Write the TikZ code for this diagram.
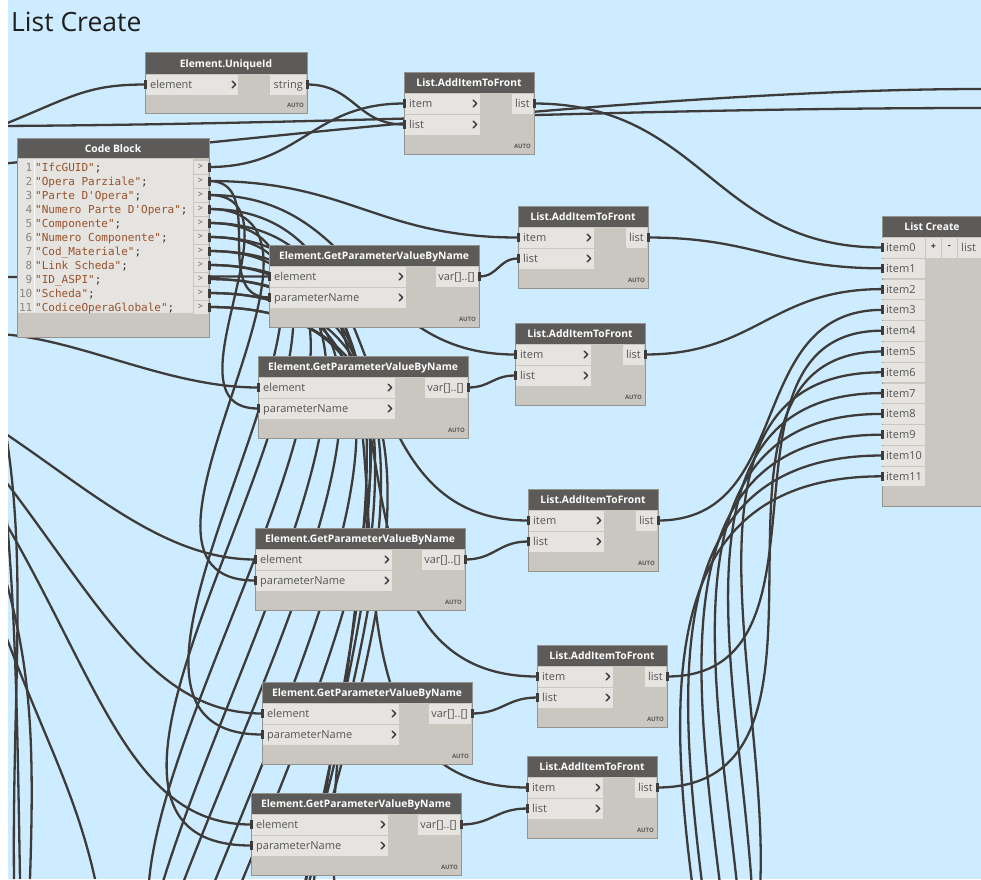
\documentclass[tikz,border=0pt]{standalone}
\usepackage{fontspec}
\setmainfont{Open Sans}
\setmonofont{DejaVu Sans Mono}
\usetikzlibrary{calc}
\pgfdeclarelayer{bg}
\pgfdeclarelayer{wires}
\pgfsetlayers{bg,wires,main}

\definecolor{canvas}{RGB}{206,236,255}
\definecolor{headgray}{RGB}{93,91,89}
\definecolor{bodygray}{RGB}{202,198,192}
\definecolor{rowgray}{RGB}{230,228,225}
\definecolor{edgegray}{RGB}{150,147,143}
\definecolor{wirecol}{RGB}{62,60,58}
\definecolor{labelgray}{RGB}{85,85,85}
\definecolor{chevcol}{RGB}{60,60,60}
\definecolor{strbrown}{RGB}{150,82,42}
\definecolor{numgray}{RGB}{135,135,135}
\definecolor{codedark}{RGB}{50,50,50}

\tikzset{
  wire/.style={draw=wirecol, line width=2.3pt,
    to path={let \p1=(\tikztostart), \p2=(\tikztotarget),
      \n1={0.45*veclen(\x2-\x1,\y2-\y1)} in
      .. controls +(\n1,0) and +(-\n1,0) .. (\tikztotarget)}},
  freewire/.style={draw=wirecol, line width=2.3pt},
  headtext/.style={text=white, font=\fontsize{10.3}{12}\selectfont\bfseries, inner sep=0pt},
  porttext/.style={text=labelgray, font=\fontsize{11}{13}\selectfont, inner sep=0pt},
  autotext/.style={text=headgray, font=\fontsize{6}{7}\selectfont\bfseries, inner sep=0pt},
  codetext/.style={font=\fontsize{11}{14}\selectfont\ttfamily, inner sep=0pt},
  titletext/.style={text=black!88, font=\fontsize{26.5}{30}\selectfont, inner sep=0pt},
}

% input chevron and port marker
\newcommand{\dynchev}[2]{\draw[chevcol, line width=1.4pt, line cap=round, line join=round]
  ({#1-1.8},{#2-3.3}) -- ({#1+1.6},{#2}) -- ({#1-1.8},{#2+3.3});}
\newcommand{\dynmark}[2]{\fill[wirecol] ({#1-1.5},{#2-4.5}) rectangle ({#1+1.5},{#2+4.5});}

% List.AddItemToFront: name, left, top
\newcommand{\aifnode}[3]{%
\begin{scope}[shift={(#2,#3)}]
  \fill[bodygray] (0,0) rectangle (130,82);
  \fill[headgray] (0,0) rectangle (130,21);
  \fill[rowgray] (0,22) rectangle (76,41.5);
  \fill[rowgray] (0,43) rectangle (76,62.5);
  \fill[rowgray] (108,22) rectangle (129,41.5);
  \draw[edgegray, line width=0.8pt] (0,0) rectangle (130,82);
  \node[headtext, anchor=base] (#1-head) at (65,14.5) {List.AddItemToFront};
  \node[porttext, anchor=base west] (#1-l1) at (5,35.5) {item};
  \node[porttext, anchor=base west] (#1-l2) at (5,56.5) {list};
  \node[porttext, anchor=base east] (#1-l3) at (126,35.5) {list};
  \node[autotext, anchor=base east] (#1-auto) at (127,76) {AUTO};
  \dynchev{71}{31.5}\dynchev{71}{52.5}
  \coordinate (#1-item) at (0,31.5);
  \coordinate (#1-list) at (0,52.5);
  \coordinate (#1-out) at (130,31.5);
  \dynmark{0}{31.5}\dynmark{0}{52.5}\dynmark{130}{31.5}
\end{scope}}

% Element.GetParameterValueByName: name, left, top
\newcommand{\gpnode}[3]{%
\begin{scope}[shift={(#2,#3)}]
  \fill[bodygray] (0,0) rectangle (210,82);
  \fill[headgray] (0,0) rectangle (210,21);
  \fill[rowgray] (0,22) rectangle (137,41.5);
  \fill[rowgray] (0,43) rectangle (137,62.5);
  \fill[rowgray] (167,22) rectangle (209,41.5);
  \draw[edgegray, line width=0.8pt] (0,0) rectangle (210,82);
  \node[headtext, anchor=base] (#1-head) at (105,14.5) {Element.GetParameterValueByName};
  \node[porttext, anchor=base west] (#1-l1) at (5,35.5) {element};
  \node[porttext, anchor=base west] (#1-l2) at (5,56.5) {parameterName};
  \node[porttext, anchor=base east] (#1-l3) at (206,35.5) {var[]..[]};
  \node[autotext, anchor=base east] (#1-auto) at (207,76) {AUTO};
  \dynchev{132}{31.5}\dynchev{132}{52.5}
  \coordinate (#1-el) at (0,31.5);
  \coordinate (#1-pn) at (0,52.5);
  \coordinate (#1-out) at (210,31.5);
  \dynmark{0}{31.5}\dynmark{0}{52.5}\dynmark{210}{31.5}
\end{scope}}

% one line of the code block: number, y centre, text
\newcommand{\cbline}[3]{%
  \node[codetext, text=numgray, anchor=base east] (cb-n#1) at (32.5,{#2+4}) {#1};
  \node[codetext, text=strbrown, anchor=base west] (cb-t#1) at (35,{#2+4}) {#3\textcolor{codedark}{;}};
  \fill[rowgray] (193.5,{#2-6.5}) rectangle (208,{#2+6.5});
  \node[text=labelgray, font=\fontsize{9}{10}\selectfont, inner sep=0pt] (cb-g#1) at (200.5,{#2-0.5}) {>};
  \coordinate (cb-o#1) at (209,#2);
  \dynmark{209}{#2}}

\begin{document}
\begin{tikzpicture}[x=1pt,y=-1pt]
\useasboundingbox (0,0) rectangle (981,879);
\begin{pgfonlayer}{bg}
  \fill[white] (0,0) rectangle (981,879);
  \fill[canvas] (8,0) rectangle (981,879);
\end{pgfonlayer}

\node[titletext, anchor=base west] (title) at (11,31) {List Create};

% Element.UniqueId
\begin{scope}[shift={(145,52)}]
  \fill[bodygray] (0,0) rectangle (162,61);
  \fill[headgray] (0,0) rectangle (162,22);
  \fill[rowgray] (0,23) rectangle (93,42.5);
  \fill[rowgray] (125,23) rectangle (161,42.5);
  \draw[edgegray, line width=0.8pt] (0,0) rectangle (162,61);
  \node[headtext, anchor=base] (uid-head) at (81,15) {Element.UniqueId};
  \node[porttext, anchor=base west] (uid-l1) at (5,36.5) {element};
  \node[porttext, anchor=base east] (uid-l2) at (158,36.5) {string};
  \node[autotext, anchor=base east] (uid-auto) at (159,55) {AUTO};
  \dynchev{89}{32.5}
  \coordinate (uid-el) at (0,32.5);
  \coordinate (uid-out) at (162,32.5);
  \dynmark{0}{32.5}\dynmark{162}{32.5}
\end{scope}

% Code Block
\fill[bodygray] (17,138) rectangle (209,337);
\fill[headgray] (17,138) rectangle (209,158);
\fill[rowgray] (18,159) rectangle (192.5,313);
\draw[white!80!rowgray, line width=0.6pt] (33.8,160) -- (33.8,312);
\draw[edgegray, line width=0.8pt] (17,138) rectangle (209,337);
\node[headtext, anchor=base] (cb-head) at (113,152) {Code Block};
\cbline{1}{167}{"IfcGUID"}
\cbline{2}{181}{"Opera Parziale"}
\cbline{3}{195}{"Parte D'Opera"}
\cbline{4}{209}{"Numero Parte D'Opera"}
\cbline{5}{223}{"Componente"}
\cbline{6}{237}{"Numero Componente"}
\cbline{7}{251}{"Cod\_Materiale"}
\cbline{8}{265}{"Link Scheda"}
\cbline{9}{279}{"ID\_ASPI"}
\cbline{10}{293}{"Scheda"}
\cbline{11}{307}{"CodiceOperaGlobale"}

% List.AddItemToFront nodes
\aifnode{aif1}{404}{72}
\aifnode{aif2}{518}{206}
\aifnode{aif3}{515}{323}
\aifnode{aif4}{528}{489}
\aifnode{aif5}{537}{645}
\aifnode{aif6}{527}{756}

% Element.GetParameterValueByName nodes
\gpnode{gp1}{269}{245}
\gpnode{gp2}{258}{356}
\gpnode{gp3}{255}{528}
\gpnode{gp4}{262}{682}
\gpnode{gp5}{251}{793}

% List Create
\begin{scope}[shift={(882,216)}]
  \fill[bodygray] (0,0) rectangle (100,290);
  \fill[headgray] (0,0) rectangle (100,21);
  \draw[edgegray, line width=0.8pt] (0,0) rectangle (100,290);
  \node[headtext, anchor=base] (lc-head) at (50,14.5) {List Create};
  \fill[rowgray] (44,22) rectangle (59,41.5);
  \fill[rowgray] (60,22) rectangle (74.5,41.5);
  \fill[rowgray] (76,22) rectangle (100,41.5);
  \node[text=codedark, font=\fontsize{9}{10}\selectfont\bfseries, inner sep=0pt] (lc-plus) at (51.5,31) {+};
  \node[text=codedark, font=\fontsize{9}{10}\selectfont\bfseries, inner sep=0pt] (lc-minus) at (67.3,31) {-};
  \node[porttext, anchor=base west] (lc-outl) at (79,35.5) {list};
  \foreach \i in {0,...,11}{
    \fill[rowgray] (0,{22+20.8*\i}) rectangle (43,{41.5+20.8*\i});
    \node[porttext, anchor=base west] (lc-l\i) at (4,{35.5+20.8*\i}) {item\i};
    \coordinate (lc-i\i) at (0,{31.5+20.8*\i});
    \dynmark{0}{31.5+20.8*\i}
  }
\end{scope}

% ports of nodes further down the graph
\coordinate (gp6-pn) at (250,995);
\coordinate (gp7-pn) at (255,1125);
\coordinate (gp8-pn) at (250,1255);
\coordinate (gp9-pn) at (255,1385);
\coordinate (gp10-pn) at (250,1515);
\coordinate (aif7-item) at (491,1050);
\coordinate (aif8-item) at (471,1150);
\coordinate (aif9-item) at (451,1250);
\coordinate (aif10-item) at (431,1350);
\coordinate (aif11-item) at (411,1450);
\coordinate (aif7-out) at (620,1050);
\coordinate (aif8-out) at (600,1150);
\coordinate (aif9-out) at (580,1250);
\coordinate (aif10-out) at (560,1350);
\coordinate (aif11-out) at (540,1450);
\coordinate (aif12-out) at (540,1550);
% wires entering from the left and leaving to the right
\coordinate (L1) at (0,126);
\coordinate (L2) at (0,164);
\coordinate (L3) at (0,277);
\coordinate (L4) at (0,334);
\coordinate (L5) at (0,430);
\coordinate (L6) at (0,474);
\coordinate (L7) at (0,513);
\coordinate (L8) at (0,400);
\coordinate (L9) at (0,560);
\coordinate (L10) at (0,455);
\coordinate (L11) at (0,620);
\coordinate (B1) at (14,879);
\coordinate (B2) at (30,879);
\coordinate (B3) at (20,879);
\coordinate (B4) at (95,879);
\coordinate (R1) at (981,89);
\coordinate (R2) at (981,108);

\begin{pgfonlayer}{wires}
\begin{scope}
  \clip (8,0) rectangle (981,879);
  % strings to the front of each list
  \draw[wire] (cb-o1) to (aif1-item);
  \draw[wire] (cb-o2) to (aif2-item);
  \draw[wire] (cb-o3) to (aif3-item);
  \draw[wire] (cb-o4) to (aif4-item);
  \draw[wire] (cb-o5) to (aif5-item);
  \draw[wire] (cb-o6) to (aif6-item);
  \draw[wire] (cb-o7) to (aif7-item);
  \draw[wire] (cb-o8) to (aif8-item);
  \draw[wire] (cb-o9) to (aif9-item);
  \draw[wire] (cb-o10) to (aif10-item);
  \draw[wire] (cb-o11) to (aif11-item);
  % parameter names
  \draw[wire] (cb-o2) to (gp1-pn);
  \draw[wire] (cb-o3) to (gp2-pn);
  \draw[wire] (cb-o4) to (gp3-pn);
  \draw[wire] (cb-o5) to (gp4-pn);
  \draw[wire] (cb-o6) to (gp5-pn);
  \draw[wire] (cb-o7) to (gp6-pn);
  \draw[wire] (cb-o8) to (gp7-pn);
  \draw[wire] (cb-o9) to (gp8-pn);
  \draw[wire] (cb-o10) to (gp9-pn);
  \draw[wire] (cb-o11) to (gp10-pn);
  % values into the lists
  \draw[wire] (uid-out) to (aif1-list);
  \draw[wire] (gp1-out) to (aif2-list);
  \draw[wire] (gp2-out) to (aif3-list);
  \draw[wire] (gp3-out) to (aif4-list);
  \draw[wire] (gp4-out) to (aif5-list);
  \draw[wire] (gp5-out) to (aif6-list);
  % lists into List Create
  \draw[wire] (aif1-out) to (lc-i0);
  \draw[wire] (aif2-out) to (lc-i1);
  \draw[wire] (aif3-out) to (lc-i2);
  \draw[wire] (aif4-out) to (lc-i3);
  \draw[wire] (aif5-out) to (lc-i4);
  \draw[wire] (aif6-out) to (lc-i5);
  \draw[wire] (aif7-out) to (lc-i6);
  \draw[wire] (aif8-out) to (lc-i7);
  \draw[wire] (aif9-out) to (lc-i8);
  \draw[wire] (aif10-out) to (lc-i9);
  \draw[wire] (aif11-out) to (lc-i10);
  \draw[wire] (aif12-out) to (lc-i11);
  % elements coming in from the left
  \draw[freewire] (L1) .. controls +(70,-28) and +(-60,0) .. (uid-el);
  \draw[freewire] (L1) .. controls +(350,-2) and +(-350,0) .. (R2);
  \draw[freewire] (L2) .. controls +(250,-25) and +(-300,0) .. (R1);
  \draw[freewire] (L3) -- (gp1-el);
  \draw[freewire] (L4) .. controls +(80,5) and +(-90,0) .. (gp2-el);
  \draw[freewire] (L5) .. controls +(90,60) and +(-90,0) .. (gp3-el);
  \draw[freewire] (L6) .. controls +(100,130) and +(-110,0) .. (gp4-el);
  \draw[freewire] (L7) .. controls +(100,170) and +(-120,0) .. (gp5-el);
  \draw[freewire] (L8) .. controls +(30,150) and +(-2,-200) .. (B1);
  \draw[freewire] (L9) .. controls +(30,100) and +(5,-150) .. (B2);
  \draw[freewire] (L10) .. controls +(15,120) and +(-3,-180) .. (B3);
  \draw[freewire] (L11) .. controls +(40,110) and +(-20,-90) .. (B4);
\end{scope}
\end{pgfonlayer}
\end{tikzpicture}
\end{document}
